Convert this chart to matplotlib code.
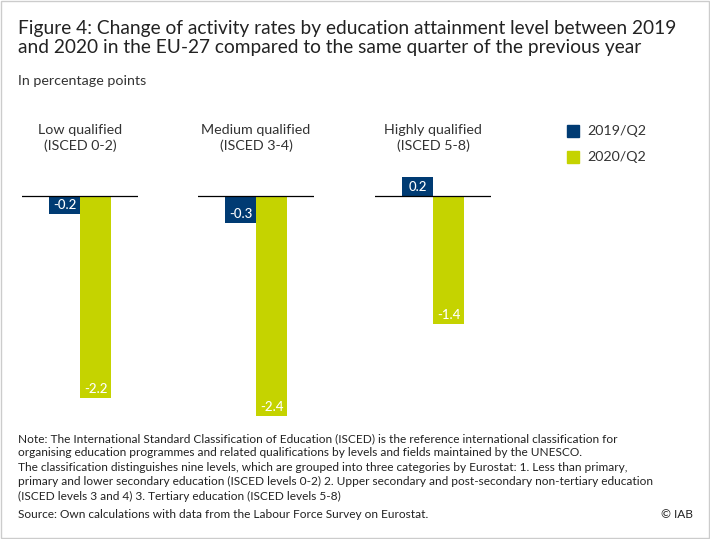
import matplotlib
matplotlib.use("Agg")
import matplotlib.pyplot as plt
from matplotlib.patches import Rectangle

plt.rcParams['font.family'] = ['Lato', 'DejaVu Sans']

groups = ["Low qualified\n(ISCED 0-2)", "Medium qualified\n(ISCED 3-4)", "Highly qualified\n(ISCED 5-8)"]
series = ["2019/Q2", "2020/Q2"]
v2019 = [-0.2, -0.3, 0.2]
v2020 = [-2.2, -2.4, -1.4]
colors = ["#003b73", "#c5d300"]

W, H = 710, 539
fig = plt.figure(figsize=(7.1, 5.39), dpi=100)
fig.add_artist(Rectangle((0.001, 0.001), 0.998, 0.998, transform=fig.transFigure,
                         fill=False, edgecolor="#cccccc", lw=1))

lefts = [22, 198, 375]
pw = 116
ylim = (-2.45, 0.28)
top_px, bot_px = 170, 421
for i, lx in enumerate(lefts):
    ax = fig.add_axes([lx / W, 1 - bot_px / H, pw / W, (bot_px - top_px) / H])
    ax.set_xlim(-1.37, 2.37)
    ax.set_ylim(*ylim)
    ax.axis("off")
    ax.axhline(0, color="black", lw=0.9, zorder=3)
    for j, v in enumerate([v2019[i], v2020[i]]):
        ax.bar(j, v, width=1.0, color=colors[j], zorder=2)
        off = -0.1 if v < 0 else 0.1
        ax.text(j, v - off, f"{v:.1f}", color="white", ha="center",
                va="center", fontsize=9.5, fontweight="medium", zorder=4)
    fig.text((lx + 58) / W, 1 - 138 / H, groups[i], ha="center", va="center",
             fontsize=10.3, color="#333333", linespacing=1.3)

for k, s in enumerate(series):
    y = 131 + 26 * k
    fig.add_artist(Rectangle((567 / W, 1 - (y + 6) / H), 12 / W, 12 / H,
                             transform=fig.transFigure, color=colors[k]))
    fig.text(587 / W, 1 - y / H, s, va="center", fontsize=10.3, color="#333333")

fig.text(18 / W, 1 - 38 / H,
         "Figure 4: Change of activity rates by education attainment level between 2019\n"
         "and 2020 in the EU-27 compared to the same quarter of the previous year",
         va="center", fontsize=13.8, color="#222222", linespacing=1.2)
fig.text(18 / W, 1 - 81 / H, "In percentage points", va="center", fontsize=10.3, color="#333333")

note = ("Note: The International Standard Classification of Education (ISCED) is the reference international classification for\n"
        "organising education programmes and related qualifications by levels and fields maintained by the UNESCO.\n"
        "The classification distinguishes nine levels, which are grouped into three categories by Eurostat: 1. Less than primary,\n"
        "primary and lower secondary education (ISCED levels 0-2) 2. Upper secondary and post-secondary non-tertiary education\n"
        "(ISCED levels 3 and 4) 3. Tertiary education (ISCED levels 5-8)")
fig.text(18 / W, 1 - 433 / H, note, va="top", fontsize=8.6, color="#222222", linespacing=1.38)
fig.text(18 / W, 1 - 514 / H, "Source: Own calculations with data from the Labour Force Survey on Eurostat.",
         va="center", fontsize=8.6, color="#222222")
fig.text(693 / W, 1 - 514 / H, "© IAB", ha="right", va="center", fontsize=8.6, color="#222222")

fig.savefig("out.png", dpi=100)
